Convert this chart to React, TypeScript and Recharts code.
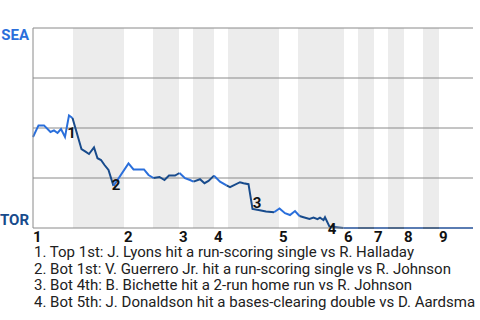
import { LineChart, Line, XAxis, YAxis, ReferenceArea, ReferenceLine, ReferenceDot } from 'recharts';

const SEA_COLOR = '#2a6fdb';
const TOR_COLOR = '#184b8c';
const GRID = '#8a8a8a';

// position on the plate-appearance axis and Seattle win probability (%)
const paPos = [
  0, 1.1, 2.2, 3.5, 4.2, 4.9, 5.6, 6.4, 7.2, 7.9,
  9.7, 10.5, 11.2, 12.2, 12.9, 13.6, 14.3, 15.1, 16.1,
  19.1, 20.1, 22.2, 23.1, 24.1,
  25.3, 26.3, 27.2, 28.4, 29.3,
  30.4, 31.4, 32.1,
  33.4, 34.3, 35.1, 36.2,
  37.4, 38.7,
  39.4, 41.4, 42.1, 43.1, 43.9, 45.1, 46.6, 48.2,
  49.3, 50.4, 51.4, 52.4, 53.3,
  54.1, 55.3, 56.1, 56.9, 57.4, 58.1, 58.4, 59.3, 60.6, 62.1,
  65, 68.2, 71, 74.2, 78, 81.2, 88,
];
const seaWin = [
  45.5, 51.3, 51.3, 48, 48.8, 47.5, 49.5, 45.5, 56.3, 55,
  39.4, 38.2, 37, 40.3, 34.9, 34, 31.5, 29, 21,
  32.3, 29.3, 29.3, 26.5, 25,
  25.5, 24, 26.2, 26.2, 27.5,
  24.9, 24, 23.2,
  24.4, 22.4, 23.5, 26.2,
  23.2, 21.3,
  20.4, 22.9, 22.4, 21.9, 9.5, 9, 8.3, 7.9,
  9.8, 7.4, 6.5, 8.5, 6,
  5.4, 4.5, 5.2, 4.4, 5.2, 4, 5.4, 0.7, 0.4, 0,
  0, 0, 0, 0, 0, 0, 0,
];
// half inning of the segment ending at each point (even = top, SEA batting)
const paHalf = [
  0, 0, 0, 0, 0, 0, 0, 0, 0, 0,
  1, 1, 1, 1, 1, 1, 1, 1, 1,
  2, 2, 2, 2, 2,
  3, 3, 3, 3, 3,
  4, 4, 4,
  5, 5, 5, 5,
  6, 6,
  7, 7, 7, 7, 7, 7, 7, 7,
  8, 8, 8, 8, 8,
  9, 9, 9, 9, 9, 9, 9, 9, 9, 9,
  10, 11, 12, 13, 14, 15, 16,
];

// start of each half inning on the x axis (last value = end of axis)
const halfStarts = [0, 8, 18.2, 24, 29.2, 32, 36.2, 39, 49.2, 53, 62.2, 65, 68.2, 71, 74.2, 78, 81.2, 88];
const inningLabels = ['1', '2', '3', '4', '5', '6', '7', '8', '9'];

const eventX = [7.7, 16.6, 44.8, 59.8];
const eventY = [45, 19, 9.8, -2.8];
const eventLabels = ['1', '2', '3', '4'];
const eventNotes = [
  '1. Top 1st: J. Lyons hit a run-scoring single vs R. Halladay',
  '2. Bot 1st: V. Guerrero Jr. hit a run-scoring single vs R. Johnson',
  '3. Bot 4th: B. Bichette hit a 2-run home run vs R. Johnson',
  '4. Bot 5th: J. Donaldson hit a bases-clearing double vs D. Aardsma',
];

const points = paPos.map((x, i) => ({ x, wp: seaWin[i] }));

const halfSeries = halfStarts.slice(0, -1).map((_, h) => {
  const idx = paHalf.map((hh, i) => (hh === h ? i : -1)).filter(i => i >= 0);
  const withPrev = idx[0] > 0 ? [idx[0] - 1, ...idx] : idx;
  return { h, pts: withPrev.map(i => points[i]) };
});

const bands = halfStarts.slice(0, -1)
  .map((start, h) => ({ h, x1: start, x2: halfStarts[h + 1] }))
  .filter(b => b.h % 2 === 1);

const inningTicks = halfStarts.filter((_, h) => h % 2 === 0 && h < 17);

const InningTick = (props: any) => {
  const { x, y, index } = props;
  return (
    <text x={x} y={y + 12} textAnchor="start" fontSize={15} fontWeight="bold" fill="#111" fontFamily="Roboto">
      {inningLabels[index]}
    </text>
  );
};

const TeamTick = (props: any) => {
  const { x, y, payload } = props;
  if (payload.value === 100) {
    return <text x={x} y={y + 12} textAnchor="end" fontSize={15} fontWeight="bold" fill={SEA_COLOR} fontFamily="Roboto">SEA</text>;
  }
  if (payload.value === 0) {
    return <text x={x} y={y - 3} textAnchor="end" fontSize={15} fontWeight="bold" fill={TOR_COLOR} fontFamily="Roboto">TOR</text>;
  }
  return null;
};

const EventLabel = (props: any) => {
  const { viewBox, text } = props;
  return (
    <text x={viewBox.x} y={viewBox.y} textAnchor="middle" fontSize={15} fontWeight="bold" fill="#111" fontFamily="Roboto">
      {text}
    </text>
  );
};

export default function App() {
  return (
    <div style={{ position: 'absolute', left: 0, top: 0, width: 480, height: 320, background: '#fff', overflow: 'hidden', fontFamily: 'Roboto' }}>
      <LineChart width={480} height={250} margin={{ top: 28, right: 7, left: 0, bottom: 5 }}>
        <XAxis
          type="number"
          dataKey="x"
          domain={[0, 88]}
          ticks={inningTicks}
          interval={0}
          tick={<InningTick />}
          tickLine={false}
          tickSize={0}
          axisLine={{ stroke: GRID }}
          height={17}
        />
        <YAxis
          type="number"
          domain={[0, 100]}
          ticks={[0, 25, 50, 75, 100]}
          interval={0}
          width={33}
          tick={<TeamTick />}
          tickLine={false}
          tickSize={0}
          tickMargin={4}
          axisLine={{ stroke: GRID }}
        />
        {bands.map(b => (
          <ReferenceArea key={b.h} x1={b.x1} x2={b.x2} fill="#ececec" fillOpacity={1} stroke="none" />
        ))}
        {[25, 50, 75, 100].map(v => (
          <ReferenceLine key={v} y={v} stroke={GRID} strokeWidth={1} />
        ))}
        {halfSeries.map(s => (
          <Line
            key={s.h}
            data={s.pts}
            dataKey="wp"
            type="linear"
            stroke={s.h % 2 === 0 ? SEA_COLOR : TOR_COLOR}
            strokeWidth={2}
            dot={false}
            activeDot={false}
            isAnimationActive={false}
          />
        ))}
        {eventX.map((x, i) => (
          <ReferenceDot
            key={i}
            x={x}
            y={eventY[i]}
            r={0}
            ifOverflow="visible"
            stroke="none"
            fill="none"
            label={<EventLabel text={eventLabels[i]} />}
          />
        ))}
      </LineChart>
      <div style={{ position: 'absolute', left: 34, top: 244, fontSize: 15, lineHeight: '16.7px', color: '#212121', whiteSpace: 'nowrap' }}>
        {eventNotes.map(n => (
          <div key={n}>{n}</div>
        ))}
      </div>
    </div>
  );
}
